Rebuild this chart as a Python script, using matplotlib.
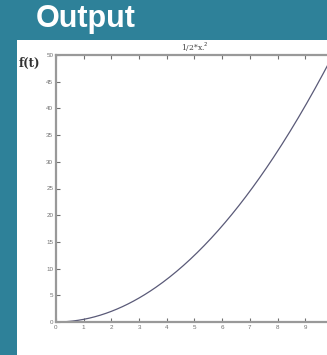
import matplotlib.pyplot as plt
import numpy as np
from matplotlib.patches import Rectangle

# 数据
x_min, x_max = 0, 10
x_ticks = [0, 1, 2, 3, 4, 5, 6, 7, 8, 9]
y_ticks = [0, 5, 10, 15, 20, 25, 30, 35, 40, 45, 50]
x = np.linspace(x_min, x_max, 201)
y = 0.5 * x ** 2

plt.rcParams['font.family'] = ['Liberation Sans', 'DejaVu Sans']

fig = plt.figure(figsize=(3.27, 3.55), dpi=100)
fig.patch.set_facecolor('#2E8199')

# 白色面板
fig.patches.append(Rectangle((17 / 327, 0), 1 - 17 / 327, 315 / 355,
                             transform=fig.transFigure, facecolor='white',
                             edgecolor='none', zorder=-5))

fig.text(36 / 327, 1 - 19 / 355, 'Output', color='white', fontsize=22,
         fontweight='bold', va='center', ha='left')

ax = fig.add_axes([56 / 327, 33 / 355, 277 / 327, 267 / 355])
ax.set_facecolor('none')
ax.plot(x, y, color='#5a5a78', linewidth=0.9)

ax.set_xlim(x_min, x_max)
ax.set_ylim(0, 50)
ax.set_xticks(x_ticks)
ax.set_yticks(y_ticks)
ax.tick_params(direction='in', length=3, width=0.8, labelsize=4.5,
               colors='#707070', top=True, right=True, pad=2)
for s in ax.spines.values():
    s.set_color('#999999')
    s.set_linewidth(1.6)

ax.set_title('1/2*x.$^2$', fontsize=5.5, color='#444444', pad=3,
             family='DejaVu Serif')
fig.text(19 / 327, 1 - 63 / 355, 'f(t)', fontsize=8.5, fontweight='bold',
         color='#333333', va='center', ha='left', family='DejaVu Serif')

fig.savefig('out.png', dpi=100, facecolor=fig.get_facecolor())
